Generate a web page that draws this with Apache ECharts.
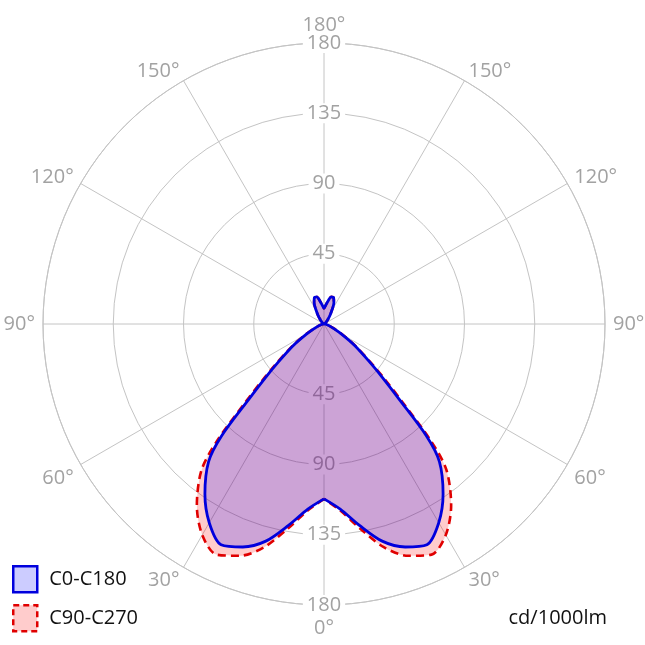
<!DOCTYPE html>
<html><head><meta charset="utf-8">
<script src="https://cdn.jsdelivr.net/npm/echarts@6/dist/echarts.min.js"></script>
<style>html,body{margin:0;padding:0;background:#fff}#c{width:645px;height:645px}</style>
</head><body><div id="c"></div>
<script>
// gamma angles (degrees from nadir) and intensities in cd/1000lm
const gammaAngles = [0,5,10,15,20,25,30,35,40,42.5,45,47.5,50,55,60,65,70,75,80,85,90,95,100,105,110,115,120,125,130,135,140,145,150,155,160,165,170,175,180];
const c0c180 =      [112,119,131,144,152,156,147,133,115,97,68,51,39,24,13,7,4,2,1,0.5,0,0,0,0,0,0,0.5,1,1.5,2.5,4,6.5,10,15,18,18,15,12,10];
const c90c270 =     [112,120,133,148,158,163,156,142,122,101,72,54,41,25,14,7.5,4,2,1,0.5,0,0,0,0,0,0,0.5,1,1.5,2.5,4,6.5,10,15,18,18,15,12,10];
const seriesNames = ['C0-C180','C90-C270'];
const radiusTicks = [0,45,90,135,180];
const angleTickStep = 30;
const unitText = 'cd/1000lm';

const FONT = 'Open Sans';
function closedCurve(values){
  const pts = [];
  for (let i = 0; i < gammaAngles.length; i++) pts.push([values[i], gammaAngles[i]]);
  for (let i = gammaAngles.length - 2; i >= 0; i--) pts.push([values[i], 360 - gammaAngles[i]]);
  return pts;
}
const C = [324, 324], R = 281;
const gridColor = '#c4c4c4';
const labelColor = '#a2a2a2';
const rMax = radiusTicks[radiusTicks.length-1];
const rStep = radiusTicks[1]-radiusTicks[0];
const radiusLabel = {
  show: true, margin: 0, align: 'center', verticalAlign: 'middle',
  color: labelColor, fontSize: 20, fontFamily: FONT,
  backgroundColor: '#fff', padding: [0, 4], showMinLabel: false
};
// label line-box heights tune how far each angle label sits from the rim
const angleLabelRich = {
  n: {fontSize: 20, fontFamily: FONT, color: labelColor},
  hi: {fontSize: 20, fontFamily: FONT, color: labelColor, lineHeight: 4},
  lo: {fontSize: 20, fontFamily: FONT, color: labelColor, lineHeight: 30},
  mid: {fontSize: 20, fontFamily: FONT, color: labelColor, lineHeight: 12}
};
function angleLabel(v){
  const g = v <= 180 ? v : 360 - v;
  let cls = 'n';
  if (g === 150 || g === 120) cls = 'hi';
  else if (g === 0) cls = 'lo';
  else if (g === 30) cls = 'mid';
  return '{' + cls + '|' + g + '°}';
}
const legendBase = {orient: 'vertical', left: 7, itemWidth: 24, itemHeight: 26,
  textStyle: {fontSize: 20, color: '#111', fontFamily: FONT, padding: [0, 0, 0, 7]}};
const chart = echarts.init(document.getElementById('c'), null, {renderer: 'canvas'});
chart.setOption({
  animation: false,
  backgroundColor: '#fff',
  polar: [
    {center: C, radius: R},
    {center: C, radius: R},
    {center: C, radius: R}
  ],
  angleAxis: [
    {polarIndex: 0, type: 'value', min: 0, max: 360, interval: angleTickStep, startAngle: 270, clockwise: true,
     axisLine: {lineStyle: {color: gridColor, width: 1}}, axisTick: {show: false},
     axisLabel: {color: labelColor, fontSize: 20, fontFamily: FONT, margin: 8, showMaxLabel: false,
       formatter: angleLabel, rich: angleLabelRich},
     splitLine: {lineStyle: {color: gridColor, width: 1}}},
    {polarIndex: 1, type: 'value', min: 0, max: 360, startAngle: 270, clockwise: true, show: false},
    {polarIndex: 2, type: 'value', min: 0, max: 360, startAngle: 90, clockwise: true, show: false}
  ],
  radiusAxis: [
    {polarIndex: 0, type: 'value', min: 0, max: rMax, interval: rStep,
     axisLine: {show: false}, axisTick: {show: false}, axisLabel: {show: false},
     splitLine: {lineStyle: {color: gridColor, width: 1}}},
    {polarIndex: 1, type: 'value', min: 0, max: rMax, interval: rStep, z: 1,
     axisLine: {show: false}, axisTick: {show: false}, splitLine: {show: false}, axisLabel: radiusLabel},
    {polarIndex: 2, type: 'value', min: 0, max: rMax, interval: rStep, z: 1,
     axisLine: {show: false}, axisTick: {show: false}, splitLine: {show: false}, axisLabel: radiusLabel}
  ],
  title: {text: unitText, right: 33, top: 603,
    textStyle: {fontSize: 20, fontWeight: 'normal', color: '#111', fontFamily: FONT}},
  legend: [
    Object.assign({}, legendBase, {top: 560, data: [
      {name: seriesNames[0], icon: 'rect',
       itemStyle: {color: 'rgba(0,0,255,0.2)', borderColor: '#0000dd', borderWidth: 2.5}}]}),
    Object.assign({}, legendBase, {top: 599, data: [
      {name: seriesNames[1], icon: 'rect',
       itemStyle: {color: 'rgba(255,0,0,0.2)', borderColor: '#e00000', borderWidth: 2.5, borderType: [6, 4]}}]})
  ],
  series: [
    {type: 'line', name: seriesNames[1], coordinateSystem: 'polar', polarIndex: 0,
     data: closedCurve(c90c270), symbol: 'none', smooth: 0.3, z: 2,
     lineStyle: {color: '#e00000', width: 2.6, type: [8, 5]},
     areaStyle: {color: 'rgba(255,0,0,0.2)', opacity: 1}},
    {type: 'line', name: seriesNames[0], coordinateSystem: 'polar', polarIndex: 0,
     data: closedCurve(c0c180), symbol: 'none', smooth: 0.3, z: 3,
     lineStyle: {color: '#0000dd', width: 2.8},
     areaStyle: {color: 'rgba(0,0,255,0.2)', opacity: 1}}
  ]
});
</script></body></html>
